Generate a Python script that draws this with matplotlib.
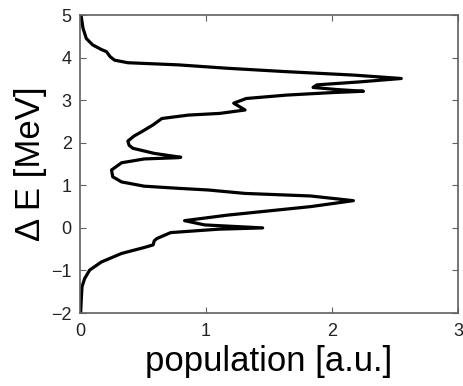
import matplotlib
matplotlib.use("Agg")
import matplotlib.pyplot as plt

# curve, traced from the top (E = 5) down to E = -2
population = [0.0, 0.01, 0.024, 0.05, 0.10, 0.17, 0.21, 0.24, 0.275, 0.38,
              0.46, 0.78, 1.17, 1.64, 2.17, 2.55, 2.22, 1.88, 1.85, 2.04,
              2.25, 2.01, 1.64, 1.32, 1.22, 1.31, 1.11, 0.86, 0.65, 0.58,
              0.49, 0.43, 0.38, 0.39, 0.42, 0.59, 0.80, 0.78, 0.51, 0.33,
              0.25, 0.26, 0.33, 0.51, 0.78, 1.02, 1.31, 1.83, 2.17, 1.83,
              1.17, 0.83, 0.99, 1.45, 1.10, 0.72, 0.61, 0.59, 0.58, 0.51,
              0.33, 0.17, 0.077, 0.037, 0.016, 0.01, 0.005]
energy = [5.0, 4.96, 4.69, 4.45, 4.30, 4.19, 4.14, 4.02, 3.94, 3.88,
          3.87, 3.83, 3.75, 3.67, 3.59, 3.51, 3.43, 3.36, 3.30, 3.25,
          3.21, 3.18, 3.12, 3.04, 2.93, 2.77, 2.69, 2.65, 2.57, 2.42,
          2.26, 2.16, 2.04, 1.94, 1.87, 1.75, 1.66, 1.65, 1.62, 1.53,
          1.36, 1.20, 1.08, 0.98, 0.93, 0.89, 0.81, 0.75, 0.64, 0.50,
          0.30, 0.17, 0.07, 0.00, -0.03, -0.11, -0.25, -0.30, -0.40, -0.46,
          -0.60, -0.80, -0.99, -1.19, -1.38, -1.69, -2.0]

x_ticks = [0, 1, 2, 3]
y_ticks = [-2, -1, 0, 1, 2, 3, 4, 5]

plt.rcParams['font.family'] = ['Liberation Sans', 'DejaVu Sans']

fig = plt.figure(figsize=(4.64, 3.86), dpi=100)
ax = fig.add_axes([0.1724, 0.189, 0.8146, 0.772])

ax.plot(population, energy, color='black', linewidth=2.3,
        solid_joinstyle='round', solid_capstyle='round')

ax.set_xlim(0, 3)
ax.set_ylim(-2, 5)
ax.set_xticks(x_ticks)
ax.set_yticks(y_ticks)
ax.set_xticklabels([str(t) for t in x_ticks])
ax.set_yticklabels([str(t).replace('-', '\u2212') for t in y_ticks])

ax.tick_params(direction='in', length=4, width=0.8, colors='#606060',
               labelcolor='#222222', labelsize=13, top=True, right=True)
ax.tick_params(axis='x', pad=7)
ax.tick_params(axis='y', pad=6)
for s in ax.spines.values():
    s.set_color('#606060')
    s.set_linewidth(1.2)

ax.set_xlabel('population [a.u.]', fontsize=25, labelpad=4)
ax.set_ylabel('\u0394 E [MeV]', fontsize=25, labelpad=3)

fig.savefig('out.png', dpi=100)
